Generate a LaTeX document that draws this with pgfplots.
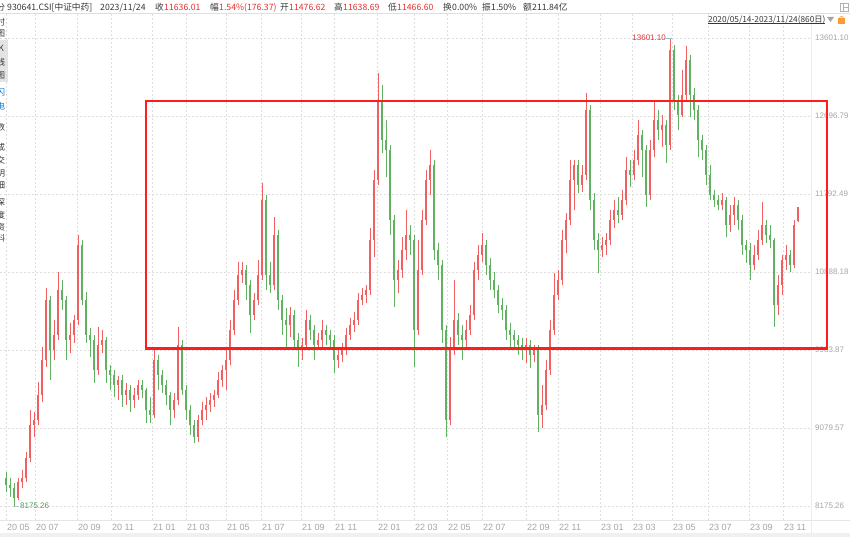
\documentclass[border=0pt]{standalone}
\usepackage{fontspec}
\setmainfont{Liberation Sans}
\newfontfamily\cjk{Noto Sans CJK SC}
\usepackage{pgfplots}
\usepackage{pgfplotstable}
\pgfplotsset{compat=1.18}
\definecolor{cup}{RGB}{240,96,96}
\definecolor{cdn}{RGB}{96,178,96}
\definecolor{gridc}{RGB}{222,222,222}
\definecolor{lblc}{RGB}{165,165,165}
\definecolor{rectc}{RGB}{255,28,28}
\definecolor{hred}{RGB}{228,48,48}
\definecolor{htxt}{RGB}{55,55,55}

\pgfplotstableread{
x o h l c
18 8268 8499 8245 8453
22 8453 8592 8384 8499
26 8499 8801 8453 8731
30 8731 9288 8685 9114
34 9114 9265 8975 9172
38 9172 9613 9114 9462
42 9462 10019 9381 9868
46 9868 10702 9787 10563
54 9984 10332 9868 10158
58 10158 10888 10100 10679
70 10100 10297 9949 10158
74 10158 10389 10065 10332
78 10332 11317 10274 11201
98 9752 10251 9694 10042
102 10042 10216 9949 10100
118 9578 9682 9404 9636
126 9462 9601 9346 9520
134 9404 9543 9311 9462
138 9462 9636 9404 9578
154 9230 9984 9195 9868
174 9288 9485 9195 9404
178 9404 10251 9346 10042
198 8975 9230 8917 9172
202 9172 9381 9114 9288
206 9288 9439 9172 9346
210 9346 9485 9265 9404
214 9404 9520 9323 9462
218 9462 9729 9427 9636
222 9636 9810 9555 9752
226 9752 9984 9520 9868
230 9868 10332 9810 10216
234 10216 10679 10158 10563
238 10563 11004 10505 10853
242 10853 11004 10760 10911
254 10389 10644 10332 10563
258 10563 11027 10505 10853
262 10853 11920 10795 11723
274 10737 11526 10679 11317
290 10274 10482 10135 10389
302 9984 10123 9868 10042
306 10042 10447 9984 10332
318 10042 10181 9984 10100
322 10100 10332 10019 10216
338 9868 10007 9775 9926
342 9926 10065 9845 9984
346 9984 10239 9926 10158
350 10158 10355 10100 10274
354 10274 10424 10193 10332
358 10332 10644 10274 10563
362 10563 10702 10505 10621
366 10621 10737 10528 10679
370 10679 11398 10621 11259
374 11259 12071 11062 11955
378 11955 13195 11897 12882
398 10795 11027 10644 10911
402 10911 11294 10818 11143
406 11143 11607 11027 11317
418 10216 11259 10158 10911
422 10911 11607 10853 11491
426 11491 12071 11433 11955
430 11955 12303 11781 12129
450 9172 10135 9114 9984
454 9984 10795 9926 10332
466 10100 10332 9984 10216
470 10216 10505 10158 10389
474 10389 11004 10332 10911
478 10911 11201 10795 11085
482 11085 11340 11004 11201
526 9984 10123 9833 10042
534 9926 10042 9845 9984
542 9230 9578 9079 9346
546 9346 9868 9288 9752
550 9752 10332 9694 10216
554 10216 10876 10158 10621
558 10621 10911 10563 10795
562 10795 11375 10737 11259
566 11259 11572 11108 11491
570 11491 12187 11433 11955
574 11955 12187 11607 12129
582 11897 12129 11816 12013
586 12013 12963 11955 12766
602 11143 11294 11062 11201
606 11201 11340 11085 11259
610 11259 11607 11201 11491
614 11491 11723 11398 11607
622 11549 11839 11491 11723
626 11723 12222 11665 12071
634 12013 12303 11955 12187
638 12187 12650 12129 12476
650 11781 12418 11723 12303
654 12303 12882 12222 12650
662 12534 12708 12337 12592
670 12360 13601.10 12303 13462
682 12708 13230 12685 12940
686 12940 13508 12882 13346
722 11665 11804 11607 11723
730 11433 11665 11352 11549
734 11549 11758 11433 11665
754 10969 11201 10911 11085
758 11085 11375 11027 11259
762 11259 11700 11201 11433
778 10505 10853 10389 10737
782 10737 11085 10621 11027
786 11027 11201 10911 11085
794 10969 11491 10934 11433
798 11476.62 11638.69 11466.60 11636.01
}\uptab

\pgfplotstableread{
x o h l c
6 8499 8569 8338 8418
10 8418 8499 8280 8384
14 8384 8441 8175.26 8268
50 10563 10609 9636 9984
62 10679 10795 10447 10563
66 10563 10609 9868 10100
82 11201 11259 10505 10563
86 10563 10656 10065 10158
90 10158 10239 9903 10100
94 10100 10158 9601 9752
106 10100 10135 9601 9752
110 9752 9810 9520 9694
114 9694 9752 9439 9578
122 9636 9694 9323 9462
130 9520 9578 9265 9404
142 9578 9636 9427 9520
146 9520 9543 9137 9288
150 9288 9439 9137 9230
158 9868 9926 9520 9694
162 9694 9752 9485 9578
166 9578 9636 9346 9462
170 9462 9497 9114 9288
182 10042 10100 9462 9520
186 9520 9578 9172 9288
190 9288 9346 8998 9114
194 9114 9172 8905 8975
246 10911 10969 10563 10737
250 10737 10795 10181 10389
266 11723 11781 10679 10853
270 10853 11004 10644 10737
278 11317 11375 10447 10563
282 10563 10621 10158 10332
286 10332 10470 10019 10274
294 10389 10447 9984 10100
298 10100 10181 9787 9984
310 10332 10389 10100 10216
314 10216 10274 9868 10042
326 10216 10274 10042 10158
330 10158 10216 9984 10100
334 10100 10158 9717 9868
382 12882 13056 12268 12418
386 12418 12650 11990 12303
390 12303 12360 11317 11491
394 11491 11549 10482 10795
410 11317 11433 11085 11259
414 11259 11317 9787 10216
434 12129 12187 11027 11143
438 11143 11224 10795 10969
442 10969 11027 10065 10216
446 10216 10274 8975 9172
458 10332 10412 10042 10158
462 10158 10274 9868 10100
486 11201 11259 10853 10969
490 10969 11050 10679 10795
494 10795 10888 10586 10679
498 10679 10737 10412 10505
502 10505 10586 10332 10447
506 10447 10505 10100 10216
510 10216 10297 10019 10158
514 10158 10216 9984 10100
518 10100 10158 9926 10042
522 10042 10123 9868 9984
530 10042 10100 9775 9926
538 9984 10042 9033 9230
578 12129 12187 11804 11897
590 12766 12824 11607 11723
594 11723 11804 11143 11259
598 11259 11340 10876 11143
618 11607 11758 11456 11549
630 12071 12187 11874 12013
642 12476 12534 11990 12303
646 12303 12360 11642 11781
658 12650 12766 12418 12534
666 12592 12650 12152 12360
674 13462 13520 12766 12882
678 12882 12940 12534 12708
690 13346 13404 12685 12940
694 12940 13021 12650 12766
698 12766 12824 12222 12418
702 12418 12476 12187 12303
706 12303 12360 11897 12013
710 12013 12129 11723 11781
714 11781 11839 11642 11723
718 11723 11781 11607 11665
726 11723 11758 11294 11433
738 11665 11723 11375 11491
742 11491 11549 11085 11201
746 11201 11259 10992 11143
750 11143 11224 10795 10969
766 11433 11491 11224 11317
770 11317 11433 11166 11259
774 11259 11282 10251 10505
790 11085 11143 10888 10969
}\dntab

\begin{document}
\begin{tikzpicture}
\path[use as bounding box] (0pt,0pt) rectangle (850pt,537pt);
\fill[white] (0pt,0pt) rectangle (850pt,537pt);
% frame lines
\draw[gray!25, line width=0.6pt] (0pt,523.5pt) -- (850pt,523.5pt);
\draw[gray!15, line width=0.6pt] (811.5pt,0pt) -- (811.5pt,523.5pt);
\draw[gray!20, line width=0.6pt] (0pt,17pt) -- (850pt,17pt);
\fill[gray!12] (0pt,0pt) rectangle (850pt,4pt);

\begin{axis}[
  at={(0pt,17pt)}, anchor=south west,
  scale only axis, width=812pt, height=506pt,
  xmin=0, xmax=812, ymin=8012.9, ymax=13879.4,
  clip=false,
  axis line style={draw=none},
  tick style={draw=none},
  xtick={6,35,77,111,152,186,226,261,301,334,377,414,447,482,526,558,600,632,672,708,749,783},
  xticklabels={20 05,20 07,20 09,20 11,21 01,21 03,21 05,21 07,21 09,21 11,22 01,22 03,22 05,22 07,22 09,22 11,23 01,23 03,23 05,23 07,23 09,23 11},
  ytick={8175.26,9079.57,9983.87,10888.18,11792.49,12696.79,13601.10},
  yticklabels={8175.26,9079.57,9983.87,10888.18,11792.49,12696.79,13601.10},
  yticklabel pos=right,
  grid=major,
  major grid style={gridc, dash pattern=on 2pt off 2pt, line width=0.6pt},
  xticklabel style={font=\fontsize{9}{10}\selectfont, text=lblc, anchor=west, inner sep=0pt, xshift=1pt, yshift=-7pt},
  yticklabel style={font=\fontsize{8}{9}\selectfont, text=lblc, anchor=west, inner sep=0pt, xshift=3pt},
]
% down candles (green)
\addplot[cdn, line width=0.7pt, -, quiver={u=0, v=\thisrow{h}-\thisrow{l}}] table[x=x, y=l] {\dntab};
\addplot[cdn, line width=2.8pt, -, quiver={u=0, v=\thisrow{c}-\thisrow{o}}] table[x=x, y=o] {\dntab};
% up candles (red)
\addplot[cup, line width=0.7pt, -, quiver={u=0, v=\thisrow{h}-\thisrow{l}}] table[x=x, y=l] {\uptab};
\addplot[cup, line width=2.8pt, -, quiver={u=0, v=\thisrow{c}-\thisrow{o}}] table[x=x, y=o] {\uptab};

% red box
\draw[rectc, line width=2pt] (axis cs:146,10007) rectangle (axis cs:827,12865);
\draw[rectc, line width=3pt] (axis cs:145,10007) -- (axis cs:828,10007);

% extreme labels
\node[anchor=east, inner sep=0pt, text=hred, font=\fontsize{8}{9}\selectfont] at (axis cs:666,13601.10) {13601.10};
\draw[cyan!50!gray!70, line width=0.6pt] (axis cs:666,13601.10) -- (axis cs:672,13601.10);
\node[anchor=west, inner sep=0pt, text=cdn!85!black, font=\fontsize{8}{9}\selectfont] at (axis cs:20,8175.26) {8175.26};
\draw[gray!50, line width=0.5pt] (axis cs:13,8175.26) -- (axis cs:18.5,8175.26);
\end{axis}

% header row
\begin{scope}[every node/.style={anchor=west, inner sep=0pt, font=\cjk\fontsize{8.7}{10}\selectfont, text=htxt}]
\node at (7pt,529.5pt) {930641.CSI[中证中药]};
\node at (100pt,529.5pt) {2023/11/24};
\node at (155pt,529.5pt) {收};
\node[text=hred] at (164pt,529.5pt) {11636.01};
\node at (210pt,529.5pt) {幅};
\node[text=hred] at (219pt,529.5pt) {1.54\%(176.37)};
\node at (280pt,529.5pt) {开};
\node[text=hred] at (289pt,529.5pt) {11476.62};
\node at (334pt,529.5pt) {高};
\node[text=hred] at (343pt,529.5pt) {11638.69};
\node at (388pt,529.5pt) {低};
\node[text=hred] at (397pt,529.5pt) {11466.60};
\node at (443pt,529.5pt) {换};
\node at (452pt,529.5pt) {0.00\%};
\node at (482pt,529.5pt) {振};
\node at (491pt,529.5pt) {1.50\%};
\node at (523pt,529.5pt) {额};
\node at (532pt,529.5pt) {211.84亿};
\end{scope}
% top-right icon
\draw[gray!60, line width=0.6pt] (840pt,526pt) rectangle (848pt,534pt);
\draw[gray!60, line width=0.6pt] (843pt,526pt) -- (843pt,534pt) (843pt,530pt) -- (848pt,530pt);

% date range row
\node[anchor=west, inner sep=0pt, font=\cjk\fontsize{8.3}{9}\selectfont, text=htxt] at (708pt,517.5pt) {2020/05/14-2023/11/24(860日)};
\draw[htxt, line width=0.5pt] (708pt,513.5pt) -- (825pt,513.5pt);
\fill[gray!70] (827pt,520pt) -- (834pt,520pt) -- (830.5pt,515pt) -- cycle;
\fill[orange!80] (838pt,513pt) rectangle (845pt,518.5pt);
\draw[orange!80, line width=0.7pt] (839.5pt,518.5pt) arc (180:0:2pt);

% left sidebar (clipped at page edge)
\fill[gray!22] (0pt,455pt) rectangle (8pt,497pt);
\begin{scope}[every node/.style={inner sep=0pt, font=\cjk\fontsize{8.5}{9}\selectfont, text=htxt}]
\node at (1pt,530pt) {分};
\node at (1pt,515pt) {时};
\node at (1pt,504pt) {图};
\node at (1pt,489pt) {K};
\node at (1pt,475pt) {线};
\node at (1pt,462pt) {图};
\node[text=cyan!60!blue] at (1pt,445pt) {闪};
\node[text=cyan!60!blue] at (1pt,431pt) {电};
\node at (1pt,410pt) {数};
\node at (1pt,390pt) {成};
\node at (1pt,377pt) {交};
\node at (1pt,364pt) {明};
\node at (1pt,352pt) {细};
\node at (1pt,335pt) {深};
\node at (1pt,322pt) {度};
\node at (1pt,310pt) {资};
\node at (1pt,299pt) {料};
\end{scope}
\end{tikzpicture}
\end{document}
